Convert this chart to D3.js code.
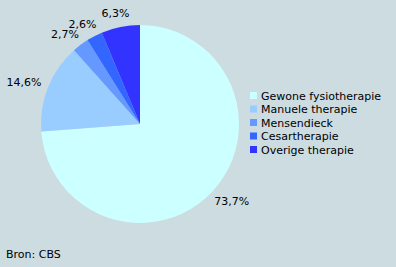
<!DOCTYPE html>
<html>
<head>
<meta charset="utf-8">
<script src="https://cdn.jsdelivr.net/npm/d3@7"></script>
<style>
  body { margin: 0; background: #cddce1; }
  svg { display: block; font-family: "DejaVu Sans", Verdana, sans-serif; font-size: 11px; }
</style>
</head>
<body>
<div id="chart"></div>
<script>
// Data
const categories = ['Gewone fysiotherapie', 'Manuele therapie', 'Mensendieck', 'Cesartherapie', 'Overige therapie'];
const values = [73.7, 14.6, 2.7, 2.6, 6.3];
const colors = ['#ccffff', '#99ccff', '#6699ff', '#3366ff', '#3333ff'];

const width = 396, height = 267;
const cx = 140, cy = 124, radius = 99;

const svg = d3.select('#chart').append('svg')
  .attr('width', width)
  .attr('height', height);

svg.append('rect').attr('width', width).attr('height', height).attr('fill', '#cddce1');

const pie = d3.pie().sort(null).value(d => d);
const arcs = pie(values);

const arc = d3.arc().innerRadius(0).outerRadius(radius);

const g = svg.append('g').attr('transform', `translate(${cx},${cy})`);

g.selectAll('path')
  .data(arcs)
  .enter().append('path')
  .attr('d', arc)
  .attr('fill', (d, i) => colors[i]);

const fmt = v => v.toFixed(1).replace('.', ',') + '%';

// labels sit on an ellipse around the pie (wider than tall)
const labelPos = d => {
  const a = (d.startAngle + d.endAngle) / 2;
  return [Math.sin(a) * 125, -Math.cos(a) * 113];
};

g.selectAll('text.lbl')
  .data(arcs)
  .enter().append('text')
  .attr('class', 'lbl')
  .attr('transform', d => `translate(${labelPos(d)})`)
  .attr('text-anchor', 'middle')
  .attr('dy', '0.35em')
  .attr('fill', '#000')
  .text(d => fmt(d.data));

// Legend
const legend = svg.append('g').attr('transform', 'translate(250,96)');
const rowH = 13.5;
const items = legend.selectAll('g')
  .data(categories)
  .enter().append('g')
  .attr('transform', (d, i) => `translate(0,${i * rowH})`);

items.append('rect')
  .attr('x', 0).attr('y', -4)
  .attr('width', 7).attr('height', 7)
  .attr('fill', (d, i) => colors[i]);

items.append('text')
  .attr('x', 11)
  .attr('dy', '0.35em')
  .attr('fill', '#000')
  .text(d => d);

svg.append('text')
  .attr('x', 6).attr('y', 258)
  .attr('fill', '#000')
  .text('Bron: CBS');
</script>
</body>
</html>
